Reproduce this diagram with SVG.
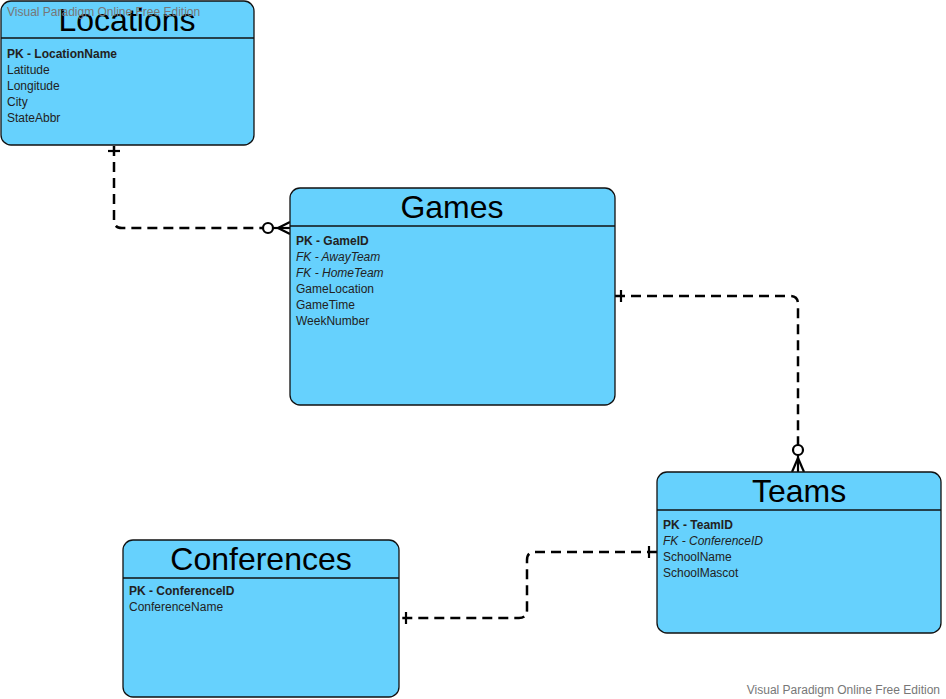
<svg xmlns="http://www.w3.org/2000/svg" width="946" height="699" viewBox="0 0 946 699">
<style>
.ent{fill:#66D1FD;stroke:#111;stroke-width:1.3}
.hl{stroke:#111;stroke-width:1.3}
.title{font-family:"Liberation Sans",Arial,sans-serif;font-size:32px;fill:#000;text-anchor:middle}
.row{font-family:"Liberation Sans",Arial,sans-serif;font-size:12px;fill:#222}
.pk{font-weight:bold}
.fk{font-style:italic}
.wm{font-family:"Liberation Sans",Arial,sans-serif;font-size:12px;fill:#777}
.con{fill:none;stroke:#000;stroke-width:2.5;stroke-dasharray:10 6}
.mk{fill:none;stroke:#000;stroke-width:2.2}
</style>
<rect width="946" height="699" fill="#fff"/>
<g id="connectors">
<path class="con" d="M114,146 V220 Q114,228 122,228 H264"/>
<g class="mk"><line x1="108" y1="151" x2="120" y2="151"/><circle cx="268" cy="228" r="5" fill="#fff"/><line x1="273" y1="228" x2="290" y2="228"/><line x1="278" y1="228" x2="290" y2="222"/><line x1="278" y1="228" x2="290" y2="234"/></g>
<path class="con" d="M615,296 H790 Q798,296 798,304 V446"/>
<g class="mk"><line x1="621" y1="290" x2="621" y2="302"/><circle cx="798" cy="450" r="5" fill="#fff"/><line x1="798" y1="455" x2="798" y2="472"/><line x1="798" y1="458" x2="792" y2="472"/><line x1="798" y1="458" x2="804" y2="472"/></g>
<path class="con" d="M657,552 H535 Q527,552 527,560 V610 Q527,618 519,618 H399"/>
<g class="mk"><line x1="649" y1="546" x2="649" y2="558"/><line x1="406" y1="612" x2="406" y2="624"/></g>
</g>
<g id="locations">
<rect class="ent" x="1" y="1" width="253" height="144" rx="10"/>
<line class="hl" x1="1" y1="38" x2="254" y2="38"/>
<text class="title" x="127" y="31">Locations</text>
<text class="row pk" x="7" y="58">PK - LocationName</text>
<text class="row" x="7" y="74">Latitude</text>
<text class="row" x="7" y="90">Longitude</text>
<text class="row" x="7" y="106">City</text>
<text class="row" x="7" y="122">StateAbbr</text>
</g>
<g id="games">
<rect class="ent" x="290" y="188" width="325" height="217" rx="10"/>
<line class="hl" x1="290" y1="226" x2="615" y2="226"/>
<text class="title" x="452" y="218">Games</text>
<text class="row pk" x="296" y="245">PK - GameID</text>
<text class="row fk" x="296" y="261">FK - AwayTeam</text>
<text class="row fk" x="296" y="277">FK - HomeTeam</text>
<text class="row" x="296" y="293">GameLocation</text>
<text class="row" x="296" y="309">GameTime</text>
<text class="row" x="296" y="325">WeekNumber</text>
</g>
<g id="teams">
<rect class="ent" x="657" y="472" width="284" height="161" rx="10"/>
<line class="hl" x1="657" y1="510" x2="941" y2="510"/>
<text class="title" x="799" y="502">Teams</text>
<text class="row pk" x="663" y="529">PK - TeamID</text>
<text class="row fk" x="663" y="545">FK - ConferenceID</text>
<text class="row" x="663" y="561">SchoolName</text>
<text class="row" x="663" y="577">SchoolMascot</text>
</g>
<g id="conferences">
<rect class="ent" x="123" y="540" width="276" height="157" rx="10"/>
<line class="hl" x1="123" y1="578" x2="399" y2="578"/>
<text class="title" x="261" y="570">Conferences</text>
<text class="row pk" x="129" y="595">PK - ConferenceID</text>
<text class="row" x="129" y="611">ConferenceName</text>
</g>
<text class="wm" x="7" y="16">Visual Paradigm Online Free Edition</text>
<text class="wm" x="940" y="694" text-anchor="end">Visual Paradigm Online Free Edition</text>
</svg>
